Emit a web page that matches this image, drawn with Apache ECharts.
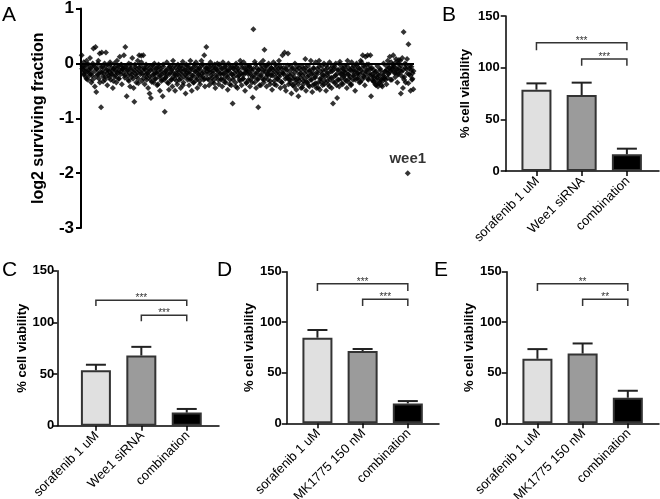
<!DOCTYPE html>
<html>
<head>
<meta charset="utf-8">
<script src="https://cdn.jsdelivr.net/npm/echarts@6/dist/echarts.min.js"></script>
<style>
  html, body { margin: 0; padding: 0; background: #fff; }
  #chart { width: 660px; height: 499px; }
</style>
</head>
<body>
<div id="chart"></div>
<script>
// A: log2 surviving fraction for every siRNA of the screen, two library sets, in screen order
const screenSet1 = [
  0.15, -0.05, -0.12, 0.02, -0.2, -0.08, -0.25, 0.05, -0.15, -0.3, -0.02, -0.18, 0.1, -0.1, -0.35, -0.22, 0.0, 0.27, -0.05, -0.42,
  0.3, -0.52, -0.1, -0.2, 0.05, -0.28, 0.18, -0.15, -0.8, 0.2, -0.06, -0.33, -0.18, 0.0, -0.25, 0.2, -0.12, -0.4, -0.03, -0.22,
  -0.15, 0.02, -0.3, -0.08, -0.2, -0.45, -0.1, 0.0, -0.25, -0.12, -0.35, 0.05, -0.18, -0.06, -0.28, 0.12, -0.15, -0.02, -0.38, -0.1,
  -0.1, 0.15, -0.22, 0.3, -0.05, -0.6, -0.12, -0.3, 0.0, -0.18, -0.42, -0.08, -0.25, 0.1, -0.15, -0.45, -0.7, -0.02, -0.2, -0.35,
  -0.1, 0.05, -0.28, 0.15, -0.15, -0.05, 0.14, -0.32, -0.2, 0.15, -0.08, -0.38, -0.12, -0.02, -0.25, -0.18, -0.45, -0.1, -0.55, -0.3,
  -0.63, -0.05, -0.22, -0.12, -0.35, 0.0, -0.18, -0.28, -0.08, -0.4, -0.15, -0.02, -0.25, -0.5, -0.1, -0.32, -0.2, -0.6, -0.06, -0.3,
  -0.88, -0.15, -0.25, 0.02, -0.35, -0.1, -0.48, -0.2, -0.05, -0.3, -0.12, -0.42, 0.05, -0.18, -0.28, -0.5, -0.08, -0.22, -0.38, -0.02,
  -0.15, -0.3, -0.05, -0.45, -0.2, -0.1, 0.03, -0.35, -0.25, -0.12, -0.55, -0.02, -0.18, -0.3, -0.08, -0.4, -0.15, 0.05, -0.28, -0.5,
  -0.1, -0.22, -0.35, -0.05, -0.15, 0.02, -0.3, -0.45, -0.12, -0.2, -0.08, -0.38, -0.25, 0.05, -0.18, -0.02, -0.3, 0.15, -0.42, -0.1,
  0.3, -0.15, -0.28, -0.05, -0.4, -0.12, 0.02, -0.22, -0.35, -0.08, -0.18, -0.3, -0.02, -0.45, -0.1, -0.25, 0.0, -0.15, -0.38, -0.05,
  -0.2, -0.3, -0.1, -0.42, 0.02, -0.18, -0.28, -0.05, -0.35, -0.12, -0.22, -0.48, 0.0, -0.15, -0.3, -0.08, -0.4, -0.2, -0.73, -0.1,
  -0.25, -0.05, -0.35, 0.0, -0.15, -0.45, -0.1, -0.22, -0.3, 0.05, -0.18, -0.4, -0.08, -0.28, 0.02, -0.2, -0.5, -0.12, -0.35, -0.05,
  -0.15, -0.3, -0.05, -0.42, -0.2, -0.1, -0.35, -0.62, 0.62, -0.25, 0.03, -0.18, -0.45, -0.08, -0.3, -0.8, -0.12, -0.4, 0.0, -0.22,
  -0.1, -0.28, 0.05, -0.35, 0.25, -0.15, -0.05, -0.42, -0.2, -0.3, 0.0, -0.12, -0.38, -0.22, -0.08, -0.48, -0.18, 0.02, -0.32, -0.1,
  -0.25, -0.4, -0.05, -0.15, -0.3, 0.05, -0.2, -0.45, -0.1, -0.35, 0.15, -0.18, -0.08, 0.2, -0.28, -0.5, -0.12, -0.22, 0.18, -0.38,
  -0.15, -0.3, -0.05, -0.55, -0.2, -0.4, -0.1, -0.25, 0.0, -0.35, -0.48, -0.12, -0.28, -0.6, -0.08, -0.32, -0.18, -0.45, -0.05, -0.22,
  -0.38, -0.1, -0.28, 0.08, -0.5, -0.15, -0.35, -0.05, -0.22, -0.42, -0.12, 0.05, -0.3, -0.52, -0.18, -0.08, -0.38, -0.25, 0.02, -0.45,
  -0.2, -0.1, -0.35, 0.05, -0.48, -0.15, -0.28, -0.05, -0.4, -0.22, 0.0, -0.32, -0.12, -0.5, -0.18, -0.08, -0.38, -0.25, 0.02, -0.3,
  -0.15, -0.45, -0.05, -0.73, -0.25, -0.1, -0.35, 0.0, -0.2, -0.63, -0.3, -0.12, -0.42, 0.03, -0.18, -0.28, -0.08, -0.38, -0.15, -0.22,
  -0.05, -0.3, -0.12, -0.45, 0.05, -0.2, -0.35, -0.1, -0.25, -0.4, 0.02, -0.15, -0.3, -0.05, -0.22, -0.5, -0.12, 0.0, -0.28, -0.18,
  -0.08, -0.35, -0.2, 0.05, -0.12, -0.3, 0.15, -0.05, -0.25, -0.4, 0.12, -0.15, -0.02, 0.15, -0.3, -0.1, -0.22, 0.15, -0.6, -0.08,
  -0.2, -0.32, -0.12, -0.25, -0.38, -0.15, -0.3, -0.05, -0.42, -0.22, -0.35, -0.1, -0.28, -0.4, -0.18, -0.32, 0.0, -0.25, -0.15, -0.3,
  -0.05, -0.12, 0.05, -0.2, -0.08, 0.12, -0.15, 0.02, -0.3, -0.1, 0.15, -0.05, -0.18, -0.25, 0.08, -0.12, -0.35, 0.0, -0.2, -0.08,
  0.05, -0.55, -0.15, 0.1, -0.45, 0.57, -0.25, 0.0, -0.35, -0.1, 0.08, -2.0, 0.35, -0.2, -0.05, -0.5, -0.12, -0.3, -0.18, -0.47
];
const screenSet2 = [
  -0.1, -0.2, -0.05, -0.15, -0.28, -0.02, -0.12, -0.22, -0.08, -0.18, -0.3, -0.04, -0.14, -0.25, -0.1, 0.0, -0.2, -0.35, -0.06, -0.16,
  -0.24, -0.1, -0.3, -0.04, -0.18, -0.12, -0.26, -0.02, -0.2, -0.14, -0.32, -0.08, -0.22, -0.16, -0.05, -0.28, -0.12, -0.2, -0.03, -0.1,
  -0.18, -0.26, -0.06, -0.14, -0.22, -0.32, -0.1, -0.02, -0.2, -0.28, -0.12, -0.06, -0.24, -0.16, -0.36, -0.08, -0.2, 0.02, -0.13, -0.27,
  -0.1, -0.2, -0.3, -0.05, -0.16, -0.24, -0.12, -0.34, -0.04, -0.2, -0.28, -0.1, -0.18, -0.38, -0.06, -0.22, -0.14, -0.3, -0.02, -0.18,
  -0.26, -0.12, -0.2, -0.36, -0.06, -0.16, -0.3, -0.1, -0.24, -0.04, -0.18, -0.32, -0.12, -0.22, -0.08, -0.28, -0.15, -0.4, -0.05, -0.2,
  -0.12, -0.25, -0.05, -0.18, -0.3, -0.1, -0.22, -0.35, -0.02, -0.15, -0.26, -0.08, -0.2, -0.32, -0.12, -0.04, -0.24, -0.16, -0.28, -0.08,
  -0.2, -0.1, -0.3, -0.16, -0.04, -0.26, -0.14, -0.36, -0.08, -0.22, -0.12, -0.3, -0.02, -0.18, -0.28, -0.1, -0.2, -0.34, -0.06, -0.15,
  -0.25, -0.12, -0.38, -0.05, -0.2, -0.3, -0.1, -0.18, -0.42, -0.06, -0.24, -0.14, -0.32, -0.02, -0.2, -0.28, -0.08, -0.16, -0.36, -0.12,
  -0.2, -0.06, -0.3, -0.14, -0.24, -0.1, -0.35, -0.02, -0.18, -0.28, -0.12, -0.22, -0.4, -0.05, -0.16, -0.3, -0.1, -0.25, -0.04, -0.2,
  -0.14, -0.32, -0.08, -0.22, -0.12, -0.38, -0.02, -0.18, -0.28, -0.1, -0.24, -0.06, -0.34, -0.16, -0.2, -0.42, -0.1, -0.26, -0.04, -0.3,
  -0.22, -0.36, -0.1, -0.28, -0.42, -0.16, -0.3, -0.06, -0.38, -0.2, -0.26, -0.12, -0.44, -0.32, -0.18, -0.08, -0.34, -0.24, -0.4, -0.14,
  -0.3, -0.2, -0.4, -0.1, -0.26, -0.36, -0.16, -0.44, -0.06, -0.28, -0.34, -0.2, -0.12, -0.38, -0.24, -0.04, -0.32, -0.18, -0.42, -0.1,
  -0.26, -0.14, -0.34, -0.06, -0.22, -0.4, -0.12, -0.3, -0.02, -0.2, -0.36, -0.1, -0.24, -0.16, -0.32, -0.05, -0.2, -0.28, -0.12, -0.38,
  -0.08, -0.22, -0.14, -0.3, -0.04, -0.18, -0.26, -0.1, -0.34, 0.02, -0.16, -0.24, -0.06, -0.2, -0.12, -0.28, -0.02, -0.18, -0.1, -0.3,
  -0.24, -0.34, -0.16, -0.4, -0.26, -0.2, -0.36, -0.12, -0.3, -0.42, -0.22, -0.28, -0.14, -0.38, -0.26, -0.18, -0.08, -0.3, -0.12, -0.02,
  -0.06, -0.16, 0.02, -0.1, -0.2, 0.06, -0.14, -0.04, -0.24, -0.12, -0.3, -0.08, -0.02, -0.18, -0.36, -0.1, -0.22, -0.06, -0.28, -0.14
];
const labelledGene = 'wee1';
const labelledIndex = 471; // position of wee1 in screenSet1
const screenTicks = [-3, -2, -1, 0, 1];

// B-E: % cell viability, mean and SD
const sirnaGroups = ['sorafenib 1 uM', 'Wee1 siRNA', 'combination'];
const drugGroups = ['sorafenib 1 uM', 'MK1775 150 nM', 'combination'];

const meansB = [78.7, 73.5, 16.1];
const sdB = [6.1, 12.0, 5.5];
const starsB = ['***', '***'];

const meansC = [53.6, 67.9, 12.7];
const sdC = [5.4, 8.4, 3.5];
const starsC = ['***', '***'];

const meansD = [84.7, 71.5, 19.7];
const sdD = [7.6, 2.0, 2.3];
const starsD = ['***', '***'];

const meansE = [63.8, 69.0, 25.3];
const sdE = [9.6, 10.0, 6.9];
const starsE = ['**', '**'];

// pairs compared: sorafenib vs combination, second treatment vs combination
const comparisons = [[0, 2], [1, 2]];
const viabilityTicks = [0, 50, 100, 150];

const FONT = '"Liberation Sans", Arial, Helvetica, sans-serif';
const barColors = ['#e0e0e0', '#9b9b9b', '#000000'];

const panels = [
  { letter: 'B', cats: sirnaGroups, means: meansB, sd: sdB, stars: starsB,
    grid: { left: 505.7, top: 16, width: 153.3, height: 155 }, xMin: -0.68, xMax: 2.71,
    bracketY: [[124, 116.8], [108.4, 101.9]], nameGap: 34, labelMargin: 6 },
  { letter: 'C', cats: sirnaGroups, means: meansC, sd: sdC, stars: starsC,
    grid: { left: 57.3, top: 270.7, width: 161.7, height: 155 }, xMin: -0.85, xMax: 2.71,
    bracketY: [[121.4, 115.9], [106.8, 101]], nameGap: 24, labelMargin: 3 },
  { letter: 'D', cats: drugGroups, means: meansD, sd: sdD, stars: starsD,
    grid: { left: 286.7, top: 271.7, width: 152.3, height: 151.6 }, xMin: -0.68, xMax: 2.69,
    bracketY: [[138, 131], [122.7, 116]], nameGap: 28, labelMargin: 5 },
  { letter: 'E', cats: drugGroups, means: meansE, sd: sdE, stars: starsE,
    grid: { left: 506.7, top: 271.7, width: 152.3, height: 151.6 }, xMin: -0.68, xMax: 2.69,
    bracketY: [[138, 131], [122.7, 116]], nameGap: 28, labelMargin: 5 }
];

const letterPos = [
  { text: 'A', x: 2, y: 16 },
  { text: 'B', x: 442, y: 16 },
  { text: 'C', x: 2, y: 271 },
  { text: 'D', x: 217, y: 271 },
  { text: 'E', x: 434, y: 271 }
];

const chart = echarts.init(document.getElementById('chart'), null, { renderer: 'canvas' });

const grids = [{ left: 81, top: 7, width: 333, height: 221 }];
const xAxes = [{
  gridIndex: 0, type: 'value', min: -1, max: screenSet1.length, show: false
}];
const yAxes = [{
  gridIndex: 0, type: 'value', min: screenTicks[0], max: screenTicks[screenTicks.length - 1], interval: 1,
  axisLine: { show: true, onZero: false, lineStyle: { color: '#000', width: 2 } },
  axisTick: { show: true, length: 5, lineStyle: { color: '#000', width: 2 } },
  axisLabel: { color: '#000', fontSize: 17, fontWeight: 'bold', margin: 7, fontFamily: FONT },
  splitLine: { show: false },
  name: 'log2 surviving fraction', nameLocation: 'middle', nameGap: 34,
  nameTextStyle: { color: '#000', fontSize: 16, fontWeight: 'bold', fontFamily: FONT }
}];

const set2Step = screenSet1.length / screenSet2.length;
const dotStyle = { symbol: 'diamond', symbolSize: 6, itemStyle: { color: '#000' } };

const series = [{
  type: 'scatter', xAxisIndex: 0, yAxisIndex: 0, ...dotStyle,
  data: screenSet1.map((v, i) => i === labelledIndex
    ? { value: [i, v], label: { show: true, formatter: labelledGene, position: 'top', distance: 4,
        color: '#000', fontSize: 15, fontWeight: 'bold', fontFamily: FONT } }
    : [i, v]),
  markLine: {
    silent: true, symbol: 'none', label: { show: false },
    lineStyle: { color: '#000', width: 2, type: 'solid' },
    data: [{ yAxis: 0 }]
  },
  z: 3
}, {
  type: 'scatter', xAxisIndex: 0, yAxisIndex: 0, ...dotStyle,
  data: screenSet2.map((v, j) => [(j + 0.5) * set2Step, v]),
  z: 3
}];

panels.forEach((p, n) => {
  const g = n + 1;
  grids.push(p.grid);
  xAxes.push({
    gridIndex: g, type: 'value', min: p.xMin, max: p.xMax,
    axisLine: { show: true, onZero: false, lineStyle: { color: '#000', width: 1.5 } },
    axisTick: { show: true, length: 5, customValues: [0, 1, 2], lineStyle: { color: '#000', width: 1.5 } },
    axisLabel: { show: false },
    splitLine: { show: false }
  });
  yAxes.push({
    gridIndex: g, type: 'value', min: viabilityTicks[0], max: viabilityTicks[viabilityTicks.length - 1], interval: 50,
    axisLine: { show: true, onZero: false, lineStyle: { color: '#000', width: 1.5 } },
    axisTick: { show: true, length: 5, lineStyle: { color: '#000', width: 1.5 } },
    axisLabel: { color: '#000', fontSize: 13, fontWeight: 'bold', margin: p.labelMargin, fontFamily: FONT },
    splitLine: { show: false },
    name: '% cell viability', nameLocation: 'middle', nameGap: p.nameGap,
    nameTextStyle: { color: '#000', fontSize: 13, fontWeight: 'bold', fontFamily: FONT }
  });

  series.push({
    type: 'bar', xAxisIndex: g, yAxisIndex: g, barWidth: 30,
    data: p.means.map((m, k) => ({ value: [k, m], itemStyle: { color: barColors[k] } })),
    itemStyle: { borderColor: '#333', borderWidth: 2 },
    z: 2
  });

  // upper error bars
  series.push({
    type: 'custom', xAxisIndex: g, yAxisIndex: g,
    data: p.means.map((m, k) => [k, m, m + p.sd[k]]),
    encode: { x: 0, y: [1, 2] },
    renderItem: (params, api) => {
      const base = api.coord([api.value(0), api.value(1)]);
      const top = api.coord([api.value(0), api.value(2)]);
      const st = { stroke: '#222', lineWidth: 2 };
      return {
        type: 'group', children: [
          { type: 'line', shape: { x1: base[0], y1: base[1], x2: top[0], y2: top[1] }, style: st },
          { type: 'line', shape: { x1: top[0] - 10, y1: top[1], x2: top[0] + 10, y2: top[1] }, style: st }
        ]
      };
    },
    z: 4
  });

  // significance brackets
  series.push({
    type: 'custom', xAxisIndex: g, yAxisIndex: g,
    data: comparisons.map((c, j) => [c[0], c[1], p.bracketY[j][0], p.bracketY[j][1]]),
    renderItem: (params, api) => {
      const a = api.coord([api.value(0), api.value(2)]);
      const b = api.coord([api.value(1), api.value(2)]);
      const drop = api.coord([api.value(0), api.value(3)])[1];
      const st = { stroke: '#333', lineWidth: 1.5, fill: null };
      return {
        type: 'group', children: [
          { type: 'polyline', shape: { points: [[a[0], drop], a, b, [b[0], drop]] }, style: st },
          { type: 'text', x: (a[0] + b[0]) / 2, y: a[1] - 2,
            style: { text: p.stars[params.dataIndex], fill: '#333', fontSize: 10, fontFamily: FONT,
              align: 'center', verticalAlign: 'middle' } }
        ]
      };
    },
    z: 4
  });

  // slanted group names under the ticks
  series.push({
    type: 'custom', xAxisIndex: g, yAxisIndex: g,
    data: p.cats.map((c, k) => [k, 0]),
    clip: false,
    renderItem: (params, api) => {
      const pt = api.coord([api.value(0), 0]);
      return {
        type: 'text', x: pt[0] + 1, y: pt[1] + 8, rotation: Math.PI / 4,
        style: { text: p.cats[params.dataIndex], fill: '#000', fontSize: 13, fontFamily: FONT,
          align: 'right', verticalAlign: 'middle' }
      };
    },
    z: 4
  });
});

const option = {
  animation: false,
  textStyle: { fontFamily: FONT },
  grid: grids,
  xAxis: xAxes,
  yAxis: yAxes,
  series: series,
  graphic: letterPos.map(l => ({
    type: 'text', left: l.x, top: l.y - 11,
    style: { text: l.text, fill: '#000', fontSize: 21, fontFamily: FONT }
  }))
};

chart.setOption(option);
</script>
</body>
</html>
